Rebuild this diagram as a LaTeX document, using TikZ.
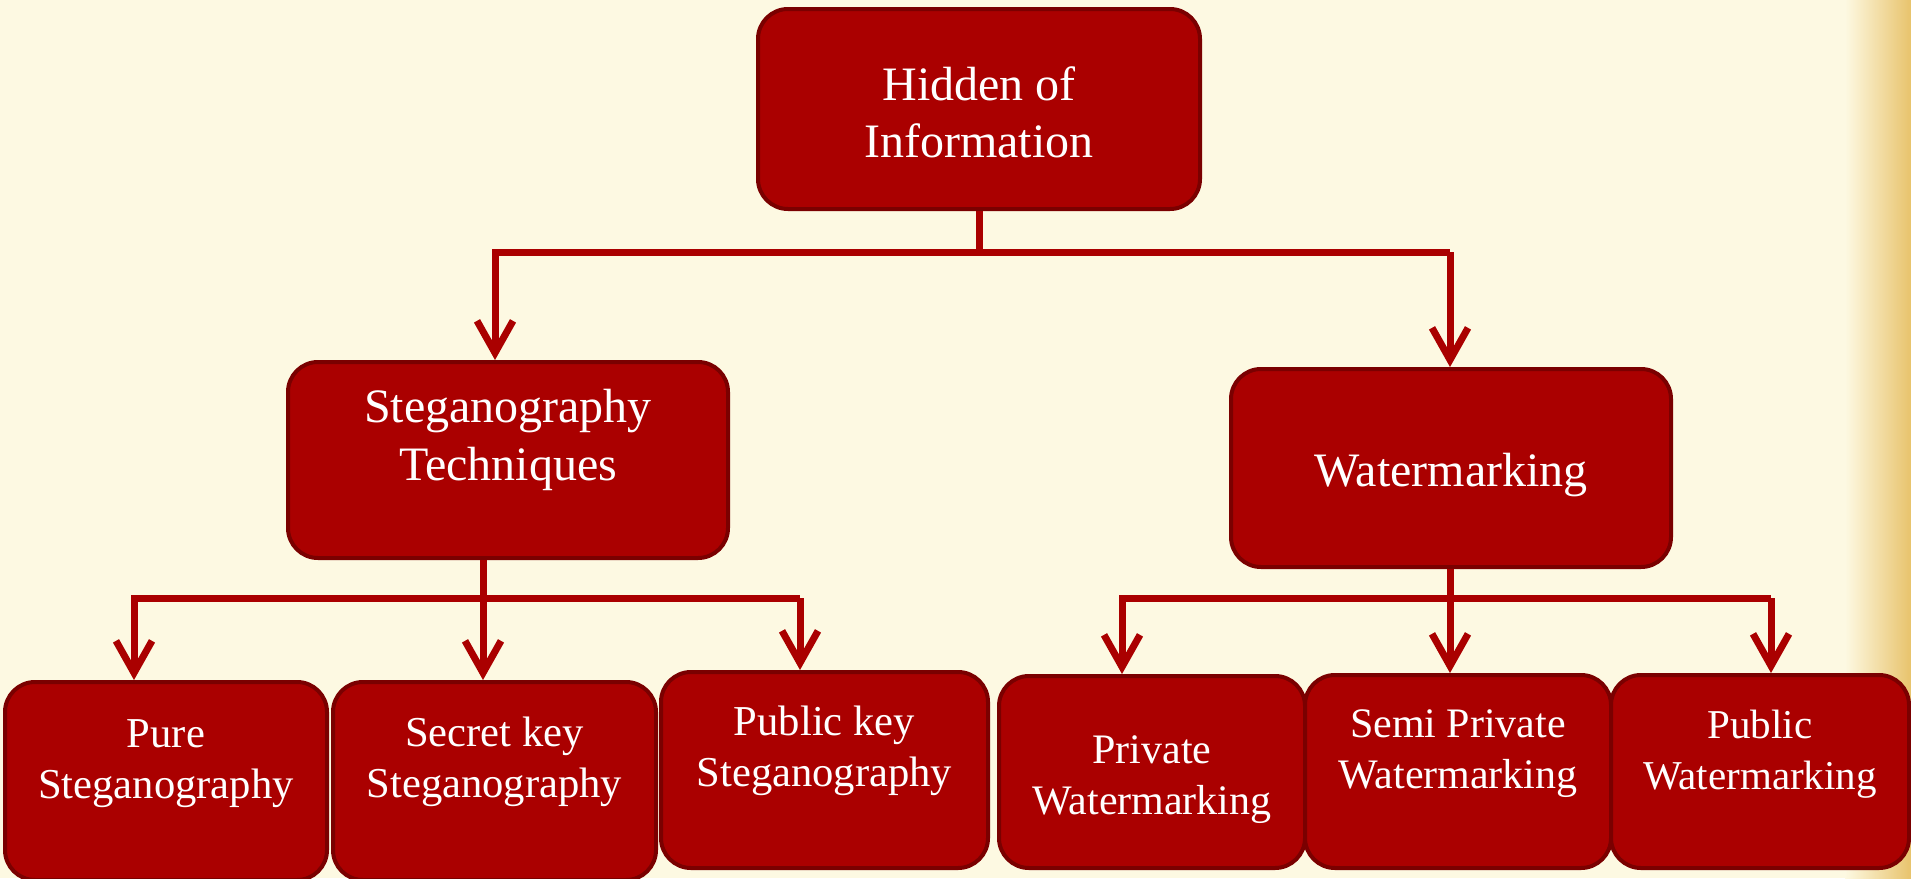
\documentclass[tikz,border=0pt]{standalone}
\usepackage{fontspec}
\setmainfont{Liberation Serif}
\usetikzlibrary{arrows.meta}

\definecolor{boxred}{HTML}{AA0000}
\definecolor{boxedge}{HTML}{7A0000}
\definecolor{paper}{HTML}{FDF9E2}
\definecolor{paperedge}{HTML}{E8C36C}

\begin{document}
\begin{tikzpicture}[
                    x=0.5pt,
                    y=-0.5pt,
                    box/.style={draw=boxedge, line width=2pt, fill=boxred,
                        rounded corners=15pt, text=white, align=center, inner sep=0pt},
                    big/.style={font=\fontsize{24}{28.5}\selectfont},
                    small/.style={font=\fontsize{#1}{25.5}\selectfont},
                    lifted/.style={text depth=#1},
                    sunk/.style={text height=#1},
                    wire/.style={draw=boxred, line width=3.5pt},
                    arrow/.style={wire, -{Straight Barb[length=16pt,width=18pt]}}
                ]
                \useasboundingbox (0,0) rectangle (1911,878);
                \clip (0,0) rectangle (1911,878);
                \fill[paper] (0,0) rectangle (1911,878);
                \shade[left color=paper, right color=paperedge] (1845,0) rectangle (1911,878);

                \node[box, big, minimum width=221pt, minimum height=100pt, sunk=48.7pt] (11) at (979,109) {Hidden of\\Information};
                \node[box, big, minimum width=220pt, minimum height=98pt, lifted=25.1pt,
                    font=\fontsize{24}{29}\selectfont] (21) at (508,460) {Steganography\\Techniques};
                \node[box, big, minimum width=220pt, minimum height=99pt, sunk=23.7pt] (22) at (1451,468) {Watermarking};
                \node[box, small=21.3, minimum width=161pt, minimum height=99pt, lifted=21.7pt] (31) at (166,781) {Pure\\Steganography};
                \node[box, small=21.3, minimum width=161.5pt, minimum height=99pt, lifted=23.3pt] (32) at (494.5,781) {Secret key\\Steganography};
                \node[box, small=21.3, minimum width=163.5pt, minimum height=98pt, lifted=23.3pt] (33) at (824.5,770) {Public key\\Steganography};
                \node[box, small=21, minimum width=153pt, minimum height=96pt, sunk=46.7pt] (34) at (1152,772) {Private\\Watermarking};
                \node[box, small=21, minimum width=153pt, minimum height=96.5pt, lifted=22.6pt] (35) at (1458,771.5) {Semi Private\\Watermarking};
                \node[box, small=20.5, minimum width=149pt, minimum height=96.5pt, lifted=22pt] (36) at (1760,771.5) {Public\\Watermarking};

                \coordinate (b1l) at (495,252);
                \coordinate (b1r) at (1450,252);
                \coordinate (b2l) at (134,598);
                \coordinate (b2m) at (483,598);
                \coordinate (b2r) at (800,598);
                \coordinate (b3l) at (1122,598);
                \coordinate (b3m) at (1450,598);
                \coordinate (b3r) at (1771,598);

                % first level
                \draw[wire] (11.south) -- (11.south |- b1l);
                \draw[arrow] (b1r) -- (b1l) -- (b1l |- 21.north);
                \draw[arrow] (b1r) -- (b1r |- 22.north);

                % steganography branch
                \draw[arrow] (b2m |- 21.south) -- (b2m |- 32.north);
                \draw[arrow] (b2r) -- (b2l) -- (b2l |- 31.north);
                \draw[arrow] (b2r) -- (b2r |- 33.north);

                % watermarking branch
                \draw[arrow] (b3m |- 22.south) -- (b3m |- 35.north);
                \draw[arrow] (b3r) -- (b3l) -- (b3l |- 34.north);
                \draw[arrow] (b3r) -- (b3r |- 36.north);
            \end{tikzpicture}
\end{document}
